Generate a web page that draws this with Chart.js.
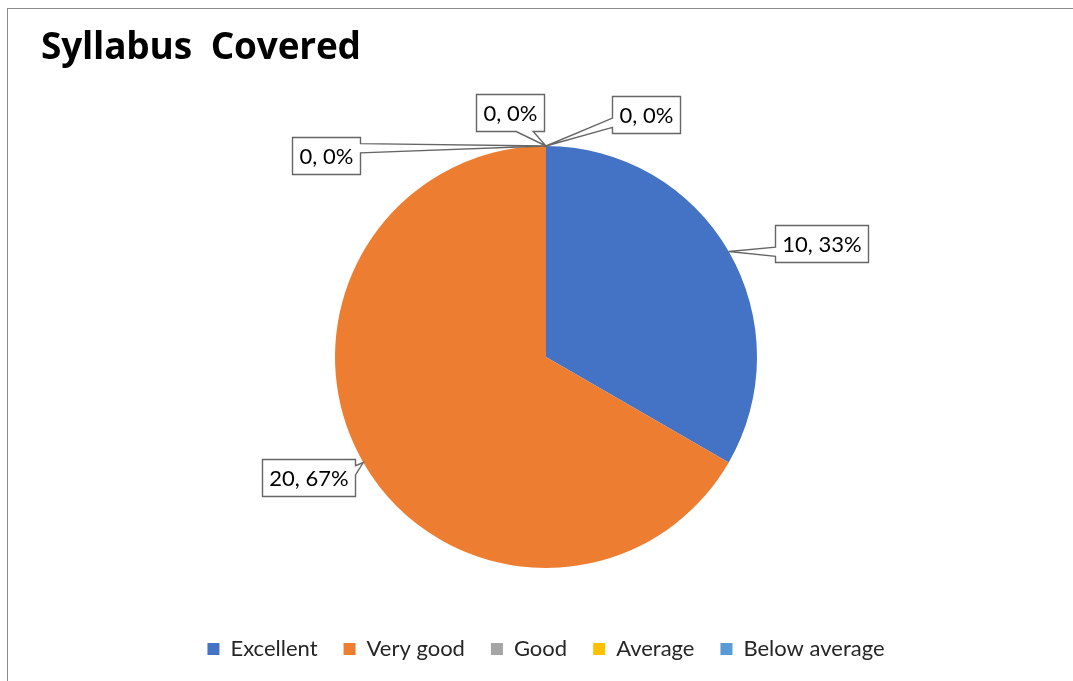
<!DOCTYPE html>
<html><head><meta charset="utf-8">
<script src="https://cdn.jsdelivr.net/npm/chart.js@4.4.1/dist/chart.umd.min.js"></script>
<style>
html,body{margin:0;padding:0;background:#fff;overflow:hidden;width:1073px;height:681px;}
#frame{position:absolute;left:7px;top:8px;width:1200px;height:800px;border-top:1px solid #8c8c8c;border-left:1px solid #8c8c8c;}
#wrap{position:absolute;left:0;top:0;width:1073px;height:681px;}
#title{position:absolute;left:41px;top:26px;font:bold 37px "Open Sans", Lato, sans-serif;color:#000;white-space:pre;line-height:1;letter-spacing:-0.2px;}
</style></head><body>
<div id="frame"></div>
<div id="wrap"><canvas id="c" width="1073" height="681"></canvas></div>
<div id="title">Syllabus  Covered</div>
<script>
// ---- data ----
const categories = ['Excellent', 'Very good', 'Good', 'Average', 'Below average'];
const values = [10, 20, 0, 0, 0];
const colors = ['#4472C4', '#ED7D31', '#A5A5A5', '#FFC000', '#5B9BD5'];
// ---- label placement (offset of callout box centre from its anchor on the pie edge) ----
const labelOffsets = [[93, -8], [-55, 15], [-36, -34], [100, -32], [-220, 9]];

function calloutPath(ctx, l, t, w, h, px, py) {
  const hc = l + w / 2, vc = t + h / 2;
  const dxPos = px - hc, dyPos = py - vc;
  const dq = dxPos * h / w;
  const dz = Math.abs(dyPos) - Math.abs(dq);
  const r = l + w, b = t + h;
  const x1 = l + w * (dxPos > 0 ? 7 : 2) / 12, x2 = l + w * (dxPos > 0 ? 10 : 5) / 12;
  const y1 = t + h * (dyPos > 0 ? 7 : 2) / 12, y2 = t + h * (dyPos > 0 ? 10 : 5) / 12;
  const inside = px > l && px < r && py > t && py < b;
  let side = null;
  if (!inside) {
    if (dz > 0) side = dyPos > 0 ? 'bottom' : 'top';
    else side = dxPos > 0 ? 'right' : 'left';
  }
  ctx.beginPath();
  ctx.moveTo(l, t);
  if (side === 'top') { ctx.lineTo(x1, t); ctx.lineTo(px, py); ctx.lineTo(x2, t); }
  ctx.lineTo(r, t);
  if (side === 'right') { ctx.lineTo(r, y1); ctx.lineTo(px, py); ctx.lineTo(r, y2); }
  ctx.lineTo(r, b);
  if (side === 'bottom') { ctx.lineTo(x2, b); ctx.lineTo(px, py); ctx.lineTo(x1, b); }
  ctx.lineTo(l, b);
  if (side === 'left') { ctx.lineTo(l, y2); ctx.lineTo(px, py); ctx.lineTo(l, y1); }
  ctx.closePath();
}

const calloutPlugin = {
  id: 'callouts',
  afterDatasetsDraw(chart) {
    const ctx = chart.ctx;
    const meta = chart.getDatasetMeta(0);
    const data = chart.data.datasets[0].data;
    const total = data.reduce((a, b) => a + b, 0);
    ctx.save();
    ctx.font = '22px Lato, "Open Sans", sans-serif';
    ctx.textAlign = 'center';
    ctx.textBaseline = 'middle';
    meta.data.forEach((arc, i) => {
      const p = arc.getProps(['x', 'y', 'startAngle', 'endAngle', 'outerRadius'], true);
      const mid = (p.startAngle + p.endAngle) / 2;
      const ax = p.x + Math.cos(mid) * p.outerRadius;
      const ay = p.y + Math.sin(mid) * p.outerRadius;
      const text = data[i] + ', ' + Math.round(data[i] / total * 100) + '%';
      const tw = ctx.measureText(text).width;
      const w = Math.round(tw + 14), h = 37;
      const cx = ax + labelOffsets[i][0], cy = ay + labelOffsets[i][1];
      const l = Math.round(cx - w / 2) + 0.5, t = Math.round(cy - h / 2) + 0.5;
      calloutPath(ctx, l, t, w, h, ax, ay);
      ctx.fillStyle = '#ffffff';
      ctx.fill();
      ctx.lineWidth = 1.4;
      ctx.strokeStyle = '#666666';
      ctx.stroke();
      ctx.fillStyle = '#000000';
      ctx.fillText(text, l + w / 2, t + h / 2 + 1);
    });
    ctx.restore();
  }
};

new Chart(document.getElementById('c'), {
  type: 'pie',
  data: {
    labels: categories,
    datasets: [{ data: values, backgroundColor: colors, borderWidth: 0, radius: 211 }]
  },
  options: {
    responsive: false,
    animation: false,
    devicePixelRatio: 1,
    layout: { padding: { top: 102, bottom: 11, left: 119, right: 100 } },
    plugins: {
      title: { display: false },
      tooltip: { enabled: false },
      legend: {
        position: 'bottom',
        labels: {
          boxWidth: 12, boxHeight: 12, padding: 26,
          color: '#262626',
          font: { family: 'Lato', size: 22 }
        }
      }
    }
  },
  plugins: [calloutPlugin]
});
</script>
</body></html>
